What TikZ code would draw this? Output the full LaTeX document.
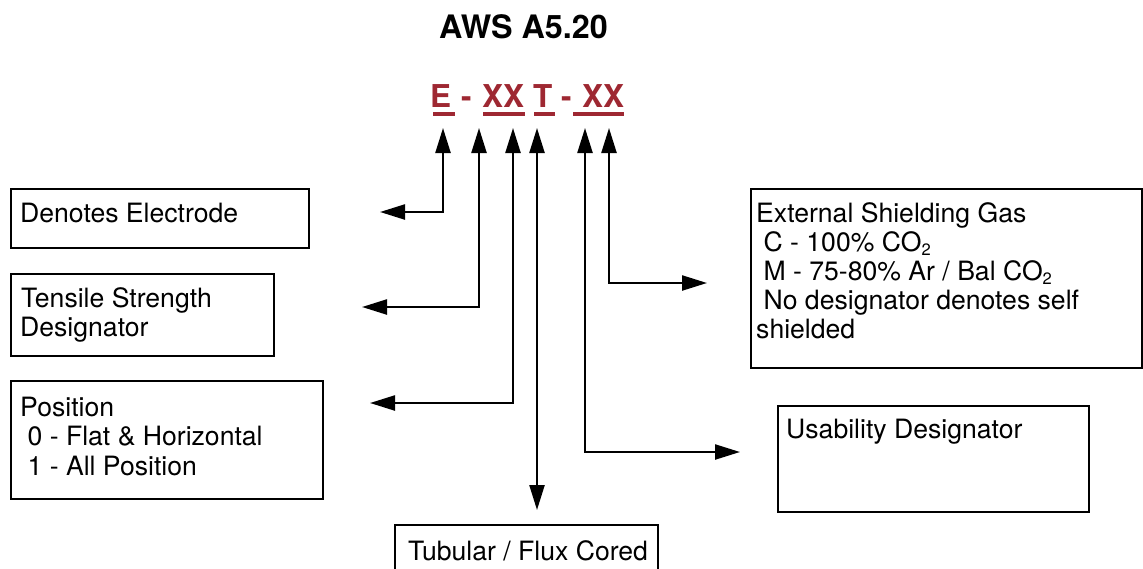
\documentclass[tikz,border=0pt]{standalone}
\usepackage{fontspec}
\setmainfont{TeX Gyre Heros}
\usetikzlibrary{arrows.meta}
\definecolor{codered}{RGB}{158,40,50}
\newcommand{\subtwo}{\raisebox{-4pt}{\fontsize{16.5}{16.5}\selectfont 2}}

\tikzset{
  box/.style={draw, line width=2pt, inner sep=0pt, anchor=north west},
  txt/.style={anchor=base west, inner sep=0pt, font=\fontsize{26.6}{30}\selectfont},
  codepart/.style={anchor=base west, inner sep=0pt, text=codered,
    font=\bfseries\fontsize{31.5}{31.5}\selectfont},
  link/.style={line width=2.3pt,
    {Triangle[length=25pt,width=15pt]}-{Triangle[length=25pt,width=15pt]}},
}

\begin{document}
\begin{tikzpicture}[x=1pt,y=-1pt]
\useasboundingbox (0,0) rectangle (1143,568);
\clip (0,0) rectangle (1143,568);

% heading
\node[anchor=base west, inner sep=0pt, font=\bfseries\fontsize{32.3}{32.3}\selectfont]
  (title) at (439,38) {AWS A5.20};

% classification code
\node[codepart] (cE)   at (430,107) {E};
\node[codepart] (cd1)  at (461,107) {-};
\node[codepart] (cXX)  at (482,107) {XX};
\node[codepart] (cT)   at (533,107) {T};
\node[codepart] (cd2)  at (561,107) {-};
\node[codepart] (cXX2) at (582,107) {XX};
\fill[codered] (433,112) rectangle (455,115.5);
\fill[codered] (483,112) rectangle (525,115.5);
\fill[codered] (534,112) rectangle (555,115.5);
\fill[codered] (573,112) rectangle (624,115.5);

% description boxes
\node[box, minimum width=298pt, minimum height=59pt]  (elec)  at (10,188)  {};
\node[box, minimum width=263pt, minimum height=82pt]  (tens)  at (10,273)  {};
\node[box, minimum width=312pt, minimum height=118pt] (pos)   at (10,380)  {};
\node[box, minimum width=391pt, minimum height=179pt] (gas)   at (750,188) {};
\node[box, minimum width=311pt, minimum height=106pt] (usab)  at (777,405) {};
\node[box, minimum width=263pt, minimum height=60pt]  (tube)  at (394,524) {};

% box texts
\node[txt] (tElec) at (20,222) {Denotes Electrode};
\node[txt] (tTens1) at (21,307) {Tensile Strength};
\node[txt] (tTens2) at (20,336) {Designator};
\node[txt] (tPos1) at (20,416) {Position};
\node[txt] (tPos2) at (20,445) {\ 0 - Flat \& Horizontal};
\node[txt] (tPos3) at (20,475) {\ 1 - All Position};
\node[txt] (tGas1) at (756,222) {External Shielding Gas};
\node[txt] (tGas2) at (756,251) {\ C - 100\% CO\subtwo};
\node[txt] (tGas3) at (756,280) {\ M - 75-80\% Ar / Bal CO\subtwo};
\node[txt] (tGas4) at (756,309) {\ No designator denotes self};
\node[txt] (tGas5) at (756,338) {shielded};
\node[txt] (tUsab) at (786,438) {Usability Designator};
\node[txt] (tTube) at (408,560) {Tubular / Flux Cored};

% connector ends
\coordinate (aE)  at (443,128);
\coordinate (aX1) at (479,128);
\coordinate (aX2) at (513,128);
\coordinate (aT)  at (537,128);
\coordinate (aG1) at (585,128);
\coordinate (aG2) at (609,128);
\coordinate (eE)  at (380,212);
\coordinate (eX1) at (362,307);
\coordinate (eX2) at (370,403);
\coordinate (eT)  at (537,510);
\coordinate (eG1) at (740,452);
\coordinate (eG2) at (707,283);

% connectors
\draw[link] (aE)  |- (eE);
\draw[link] (aX1) |- (eX1);
\draw[link] (aX2) |- (eX2);
\draw[link] (aT)  -- (eT);
\draw[link] (aG1) |- (eG1);
\draw[link] (aG2) |- (eG2);
\end{tikzpicture}
\end{document}
